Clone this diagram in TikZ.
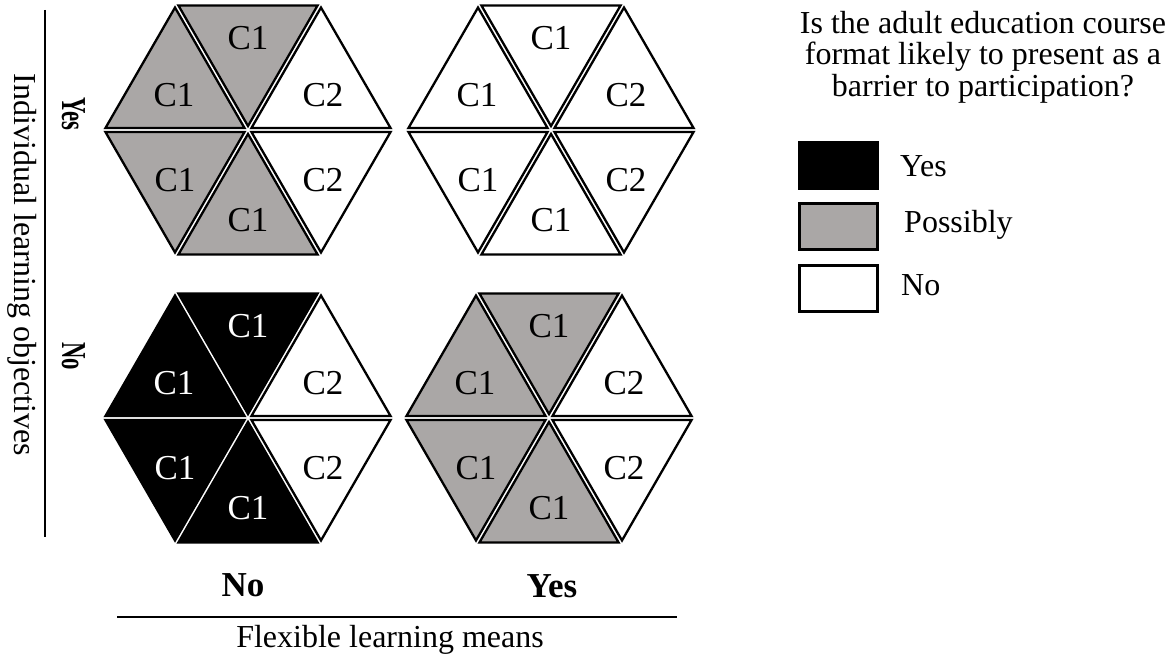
\documentclass[tikz,border=0pt]{standalone}
\usepackage{fontspec}
\setmainfont{Liberation Serif}
\usetikzlibrary{calc}
\definecolor{possibly}{RGB}{170,167,166}
\tikzset{
  tri/.style={draw=black, line width=2.3pt, line join=miter},
  lbl/.style={font=\fontsize{35}{35}\selectfont, inner sep=0pt},
  axislbl/.style={font=\fontsize{32}{31.5}\selectfont, inner sep=0pt},
  boldlbl/.style={font=\fontsize{35}{35}\selectfont\bfseries, inner sep=0pt},
  legbox/.style={draw=black, line width=2.6pt, minimum width=78pt, minimum height=46pt, inner sep=0pt, anchor=north west},
  axisline/.style={draw=black, line width=1.4pt},
}
\newcommand{\hexa}[5]{%
  \begin{scope}[shift={(#2,#3)}]
    \coordinate (#1-O) at (0,0);
    \foreach \nm/\a/\b/\lx/\ly/\fc/\tc/\lab in {t/240/300/0/-92/#4/#5/C1, ul/180/240/-74/-35/#4/#5/C1, ll/120/180/-73/50/#4/#5/C1, b/60/120/0/90/#4/#5/C1, ur/300/360/75/-35/white/black/C2, lr/0/60/75/50/white/black/C2}{
      \coordinate (#1-\nm-G) at ({(\a+\b)/2}:84.29);
      \coordinate (#1-\nm-A) at (\a:146);
      \coordinate (#1-\nm-B) at (\b:146);
      \filldraw[tri, fill=\fc] ($(#1-\nm-G)!0.9526!(#1-O)$) -- ($(#1-\nm-G)!0.9526!(#1-\nm-A)$) -- ($(#1-\nm-G)!0.9526!(#1-\nm-B)$) -- cycle;
      \node[lbl, text=\tc] (#1-\nm-L) at (\lx,\ly) {\lab};
    }
  \end{scope}}
\begin{document}
\begin{tikzpicture}[x=1pt,y=-1pt]
\useasboundingbox[fill=white] (0,0) rectangle (1169,655);
% hexagons
\hexa{tl}{248}{130}{possibly}{black}
\hexa{tr}{551}{130}{white}{black}
\hexa{bl}{248}{418}{black}{white}
\hexa{br}{549}{418}{possibly}{black}
% vertical axis
\node[axislbl, rotate=-90, anchor=base] (ylab) at (14,265) {Individual learning objectives};
\coordinate (yl-top) at (45,10);
\coordinate (yl-bot) at (45,537);
\draw[axisline] (yl-top) -- (yl-bot);
\node[boldlbl, rotate=-90, anchor=base] (yyes) at (62,114) {\scalebox{0.65}[1]{Yes}};
\node[boldlbl, rotate=-90, anchor=base] (yno) at (62,356) {\scalebox{0.65}[1]{No}};
% horizontal axis
\node[boldlbl, anchor=base] (xno) at (243,596) {No};
\node[boldlbl, anchor=base] (xyes) at (552,597) {Yes};
\coordinate (xl-left) at (117,617);
\coordinate (xl-right) at (677,617);
\draw[axisline] (xl-left) -- (xl-right);
\node[axislbl, anchor=base] (xlab) at (390,647) {Flexible learning means};
% legend
\node[axislbl, align=center, anchor=north] (legtitle) at (983,11) {Is the adult education course\\format likely to present as a\\barrier to participation?};
\node[legbox, fill=black] (kyes) at (798,141) {};
\node[legbox, fill=possibly] (kpos) at (798,202) {};
\node[legbox, fill=white] (kno) at (798,264) {};
\node[axislbl, anchor=base west] (tyes) at (900,177) {Yes};
\node[axislbl, anchor=base west] (tpos) at (904,232) {Possibly};
\node[axislbl, anchor=base west] (tno) at (901,295) {No};
\end{tikzpicture}
\end{document}
